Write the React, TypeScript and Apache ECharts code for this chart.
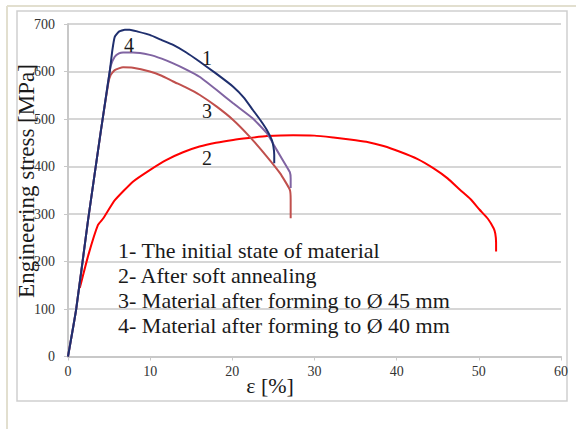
import React, { useEffect, useRef } from "react";
import * as echarts from "echarts";

const xTicks = [0, 10, 20, 30, 40, 50, 60];
const yTicks = [0, 100, 200, 300, 400, 500, 600, 700];

// curve 1 - initial state of material
const curve1: number[][] = [
  [0, 0], [1, 100], [2.44, 287], [4.0, 475], [5.08, 600], [5.4, 645], [5.69, 673], [6.2, 684],
  [6.92, 688], [7.5, 688], [8.5, 684], [9.95, 677], [11.3, 667], [12.8, 656], [14.4, 640],
  [16.0, 621], [18.0, 596], [20.1, 568], [21.4, 545], [22.5, 519], [23.4, 498], [24.2, 477],
  [24.8, 456], [25.0, 442], [25.1, 425], [25.1, 407],
];
// curve 2 - after soft annealing
const curve2: number[][] = [
  [1.43, 144], [2.5, 215], [3.65, 277], [4.3, 291], [5.7, 329], [7.9, 368], [10, 393], [12, 414],
  [14, 430], [16, 442], [18, 450], [20.1, 456], [22, 460], [24.2, 464], [27.4, 466], [30, 465],
  [32.3, 461], [34.3, 457], [36.3, 452], [38.4, 443], [40.4, 431], [42.5, 416], [44.5, 396],
  [46.2, 375], [47.7, 351], [49, 331], [50.1, 309], [51.1, 290], [51.8, 270], [52.0, 259],
  [52.1, 240], [52.1, 221],
];
// curve 3 - after forming to 45 mm
const curve3: number[][] = [
  [0, 0], [1, 100], [2.44, 287], [4.0, 475], [4.9, 575], [5.2, 593], [5.69, 603], [6.7, 609],
  [7.9, 608], [9.95, 600], [11.4, 591], [12.8, 579], [14.4, 566], [16.0, 551], [18.1, 526],
  [20.1, 498], [22.1, 463], [24.2, 421], [25.8, 386], [27.0, 351], [27.1, 330], [27.1, 291],
];
// curve 4 - after forming to 40 mm
const curve4: number[][] = [
  [0, 0], [1, 100], [2.44, 287], [4.0, 475], [4.9, 580], [5.2, 612], [5.69, 631], [6.2, 638],
  [6.7, 640], [7.9, 640], [9.95, 635], [11.4, 627], [12.8, 617], [14.4, 604], [16.0, 589],
  [18.1, 561], [20.1, 533], [22.5, 501], [24.2, 470], [25.4, 435], [26.6, 400], [27.0, 388],
  [27.1, 375], [27.1, 355],
];

const legendLines = [
  "1- The initial state of material",
  "2- After soft annealing",
  "3- Material after forming to Ø 45 mm",
  "4- Material after forming to Ø 40 mm",
];
const curveLabels = ["1", "2", "3", "4"];

const FONT = "Liberation Serif";

export default function App() {
  const ref = useRef<HTMLDivElement>(null);
  useEffect(() => {
    if (!ref.current) return;
    const chart = echarts.init(ref.current, undefined, { renderer: "svg" });
    const mkLine = (data: number[][], color: string, z: number) => ({
      type: "line",
      data,
      showSymbol: false,
      smooth: 0.15,
      z,
      lineStyle: { color, width: 2 },
    });
    const labelPos = [
      [207, 58],
      [207, 158],
      [207, 111],
      [129, 45],
    ];
    chart.setOption({
      animation: false,
      backgroundColor: "#ffffff",
      grid: { left: 68, right: 15, top: 24, bottom: 72.5, containLabel: false },
      xAxis: {
        type: "value",
        min: xTicks[0],
        max: xTicks[xTicks.length - 1],
        interval: 10,
        axisLine: { show: true, lineStyle: { color: "#c8c8c8", width: 2 } },
        axisTick: { show: true, length: 4, lineStyle: { color: "#c8c8c8" } },
        splitLine: { show: false },
        axisLabel: { fontFamily: FONT, fontSize: 14, color: "#333", margin: 8 },
      },
      yAxis: {
        type: "value",
        min: yTicks[0],
        max: yTicks[yTicks.length - 1],
        interval: 100,
        axisLine: { show: true, lineStyle: { color: "#c8c8c8", width: 2 } },
        axisTick: { show: true, length: 4, lineStyle: { color: "#c8c8c8" } },
        splitLine: { show: true, lineStyle: { color: "#d6d6d6", width: 2 } },
        axisLabel: { fontFamily: FONT, fontSize: 14, color: "#333", margin: 13 },
      },
      series: [
        mkLine(curve2, "#ff0000", 2),
        mkLine(curve3, "#c0504d", 3),
        mkLine(curve4, "#8064a2", 4),
        mkLine(curve1, "#1f2f6e", 5),
      ],
      graphic: [
        { type: "line", shape: { x1: 7, y1: 6, x2: 576, y2: 6 }, style: { stroke: "#e2dfcf", lineWidth: 2 }, z: 0 },
        { type: "line", shape: { x1: 7, y1: 6, x2: 7, y2: 429 }, style: { stroke: "#e2dfcf", lineWidth: 2 }, z: 0 },
        { type: "rect", shape: { x: 17, y: 11, width: 550, height: 390 }, style: { fill: "none", stroke: "#cfcfcf", lineWidth: 1.5 }, z: 0 },
        {
          type: "text",
          x: 26,
          y: 181,
          rotation: Math.PI / 2,
          style: {
            text: "Engineering stress [MPa]",
            fontFamily: FONT,
            fontSize: 23,
            fill: "#1a1a1a",
            textAlign: "center",
            textVerticalAlign: "middle",
          },
          z: 10,
        },
        {
          type: "text",
          x: 270,
          y: 385,
          style: {
            text: "ε [%]",
            fontFamily: FONT,
            fontSize: 22,
            fill: "#1a1a1a",
            textAlign: "center",
            textVerticalAlign: "middle",
          },
          z: 10,
        },
        ...legendLines.map((t, i) => ({
          type: "text",
          x: 118,
          y: 250 + i * 25,
          style: {
            text: t,
            fontFamily: FONT,
            fontSize: 22,
            fill: "#1a1a1a",
            textAlign: "left",
            textVerticalAlign: "middle",
          },
          z: 10,
        })),
        ...curveLabels.map((t, i) => ({
          type: "text",
          x: labelPos[i][0],
          y: labelPos[i][1],
          style: {
            text: t,
            fontFamily: FONT,
            fontSize: 20,
            fill: "#1a1a1a",
            textAlign: "center",
            textVerticalAlign: "middle",
          },
          z: 10,
        })),
      ],
    });
    return () => chart.dispose();
  }, []);
  return (
    <div
      ref={ref}
      style={{ position: "absolute", left: 0, top: 0, width: 576, height: 429 }}
    />
  );
}
